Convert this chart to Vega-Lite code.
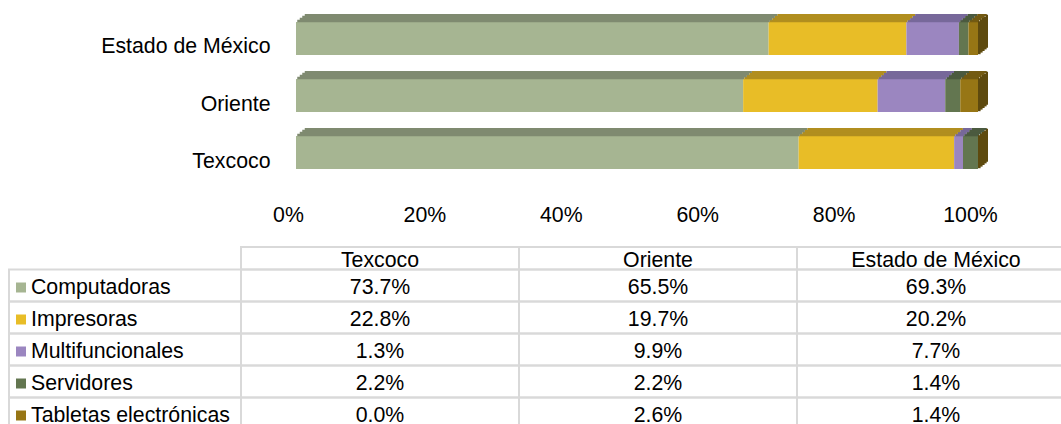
{
  "$schema": "https://vega.github.io/schema/vega-lite/v6.json",
  "width": 1061,
  "height": 424,
  "autosize": {"type": "none"},
  "padding": 0,
  "background": "#ffffff",
  "config": {
    "view": {"stroke": null},
    "text": {"font": "Liberation Sans", "fontSize": 21.3, "color": "#000000"}
  },
  "data": {
    "values": [
      {"region": "Texcoco", "category": "Computadoras", "value": 0.737},
      {"region": "Texcoco", "category": "Impresoras", "value": 0.228},
      {"region": "Texcoco", "category": "Multifuncionales", "value": 0.013},
      {"region": "Texcoco", "category": "Servidores", "value": 0.022},
      {"region": "Texcoco", "category": "Tabletas electrónicas", "value": 0.0},
      {"region": "Oriente", "category": "Computadoras", "value": 0.655},
      {"region": "Oriente", "category": "Impresoras", "value": 0.197},
      {"region": "Oriente", "category": "Multifuncionales", "value": 0.099},
      {"region": "Oriente", "category": "Servidores", "value": 0.022},
      {"region": "Oriente", "category": "Tabletas electrónicas", "value": 0.026},
      {"region": "Estado de México", "category": "Computadoras", "value": 0.693},
      {"region": "Estado de México", "category": "Impresoras", "value": 0.202},
      {"region": "Estado de México", "category": "Multifuncionales", "value": 0.077},
      {"region": "Estado de México", "category": "Servidores", "value": 0.014},
      {"region": "Estado de México", "category": "Tabletas electrónicas", "value": 0.014}
    ]
  },
  "layer": [
    {
      "transform": [
        {"stack": "value", "groupby": ["region"], "sort": [{"field": "category", "order": "ascending"}], "offset": "normalize", "as": ["x0", "x1"]}
      ],
      "encoding": {
        "x": {
          "field": "x0", "type": "quantitative",
          "scale": {"domain": [0, 1], "range": [296, 978], "nice": false, "zero": false},
          "axis": {"orient": "bottom", "offset": -209, "values": [0, 0.2, 0.4, 0.6, 0.8, 1], "format": ".0%", "ticks": false, "tickSize": 0, "domain": false, "grid": false, "labelPadding": 0, "labelBaseline": "middle", "labelOffset": -8, "labelFontSize": 21.3, "labelFont": "Liberation Sans", "labelColor": "#000000", "title": null, "labelFlush": false, "labelOverlap": false}
        },
        "x2": {"field": "x1"},
        "y": {
          "field": "region", "type": "nominal",
          "scale": {"type": "band", "domain": ["Estado de México", "Oriente", "Texcoco"], "range": [22, 169], "paddingInner": 0.421053, "paddingOuter": 0},
          "axis": {"orient": "left", "offset": -270, "ticks": false, "tickSize": 0, "domain": false, "grid": false, "labelPadding": 0, "labelAlign": "right", "labelBaseline": "middle", "labelOffset": 9, "labelFontSize": 21.3, "labelFont": "Liberation Sans", "labelColor": "#000000", "title": null}
        }
      },
      "layer": [
        {
          "mark": {"type": "bar"},
          "encoding": {
            "color": {"field": "category", "type": "nominal", "legend": null,
              "scale": {"domain": ["Computadoras", "Impresoras", "Multifuncionales", "Servidores", "Tabletas electrónicas"], "range": ["#A6B592", "#E8BD27", "#9B86C0", "#637650", "#977615"]}}
          }
        },
        {
          "encoding": {
            "color": {"field": "category", "type": "nominal", "legend": null,
              "scale": {"domain": ["Computadoras", "Impresoras", "Multifuncionales", "Servidores", "Tabletas electrónicas"], "range": ["#7F8A70", "#B18E1F", "#77689A", "#4B5A3F", "#735A12"]}}
          },
          "layer": [
            {"mark": {"type": "bar", "height": 2.6, "xOffset": 1.25, "x2Offset": 1.25, "yOffset": -17.5, "y2Offset": -17.5}},
            {"mark": {"type": "bar", "height": 2.6, "xOffset": 3.75, "x2Offset": 3.75, "yOffset": -19.5, "y2Offset": -19.5}},
            {"mark": {"type": "bar", "height": 2.6, "xOffset": 6.25, "x2Offset": 6.25, "yOffset": -21.5, "y2Offset": -21.5}},
            {"mark": {"type": "bar", "height": 2, "xOffset": 8.75, "x2Offset": 8.75, "yOffset": -23.5, "y2Offset": -23.5}}
          ]
        },
        {
          "transform": [{"filter": "datum.category === 'Tabletas electrónicas'"}],
          "encoding": {
            "x": {
              "field": "x1", "type": "quantitative",
              "scale": {"domain": [0, 1], "range": [296, 978], "nice": false, "zero": false},
              "axis": {"orient": "bottom", "offset": -209, "values": [0, 0.2, 0.4, 0.6, 0.8, 1], "format": ".0%", "ticks": false, "tickSize": 0, "domain": false, "grid": false, "labelPadding": 0, "labelBaseline": "middle", "labelOffset": -8, "labelFontSize": 21.3, "labelFont": "Liberation Sans", "labelColor": "#000000", "title": null, "labelFlush": false, "labelOverlap": false}
            },
            "x2": {"field": "x1"}
          },
          "layer": [
            {"mark": {"type": "bar", "color": "#5E4A0E", "xOffset": 0, "x2Offset": 2.6, "yOffset": -0.8, "y2Offset": -0.8}},
            {"mark": {"type": "bar", "color": "#5E4A0E", "xOffset": 2, "x2Offset": 4.6, "yOffset": -2.4, "y2Offset": -2.4}},
            {"mark": {"type": "bar", "color": "#5E4A0E", "xOffset": 4, "x2Offset": 6.6, "yOffset": -4, "y2Offset": -4}},
            {"mark": {"type": "bar", "color": "#5E4A0E", "xOffset": 6, "x2Offset": 8.6, "yOffset": -5.6, "y2Offset": -5.6}},
            {"mark": {"type": "bar", "color": "#5E4A0E", "xOffset": 8, "x2Offset": 10, "yOffset": -7.2, "y2Offset": -7.2}}
          ]
        }
      ],
      "resolve": {"scale": {"color": "independent"}}
    },
    {
      "encoding": {
        "x": {"field": "region", "type": "nominal", "axis": null,
          "scale": {"type": "band", "domain": ["Texcoco", "Oriente", "Estado de México"], "range": [241, 1075], "paddingInner": 0, "paddingOuter": 0}},
        "y": {"field": "category", "type": "nominal", "axis": null,
          "scale": {"type": "band", "domain": ["Computadoras", "Impresoras", "Multifuncionales", "Servidores", "Tabletas electrónicas"], "range": [269.5, 429.5], "paddingInner": 0, "paddingOuter": 0}}
      },
      "layer": [
        {"mark": {"type": "rect", "filled": false, "stroke": "#D9D9D9", "strokeWidth": 2}},
        {
          "mark": {"type": "text", "align": "center", "baseline": "alphabetic"},
          "encoding": {
            "y": {"field": "category", "type": "nominal", "bandPosition": 0.765},
            "text": {"field": "value", "type": "quantitative", "format": ".1%"}
          }
        }
      ]
    },
    {
      "transform": [{"filter": "datum.category === 'Computadoras'"}],
      "encoding": {
        "x": {"field": "region", "type": "nominal", "axis": null,
          "scale": {"type": "band", "domain": ["Texcoco", "Oriente", "Estado de México"], "range": [241, 1075], "paddingInner": 0, "paddingOuter": 0}},
        "y": {"datum": "hdr", "type": "nominal", "axis": null,
          "scale": {"type": "band", "domain": ["hdr"], "range": [247, 269.5], "paddingInner": 0, "paddingOuter": 0}}
      },
      "layer": [
        {"mark": {"type": "rect", "filled": false, "stroke": "#D9D9D9", "strokeWidth": 2}},
        {
          "mark": {"type": "text", "align": "center", "baseline": "alphabetic"},
          "encoding": {
            "y": {"datum": "hdr", "type": "nominal", "bandPosition": 0.875},
            "text": {"field": "region", "type": "nominal"}
          }
        }
      ]
    },
    {
      "transform": [{"filter": "datum.region === 'Texcoco'"}],
      "encoding": {
        "x": {"datum": "rowhdr", "type": "nominal", "axis": null,
          "scale": {"type": "band", "domain": ["rowhdr"], "range": [9, 241], "paddingInner": 0, "paddingOuter": 0}},
        "y": {"field": "category", "type": "nominal", "axis": null,
          "scale": {"type": "band", "domain": ["Computadoras", "Impresoras", "Multifuncionales", "Servidores", "Tabletas electrónicas"], "range": [269.5, 429.5], "paddingInner": 0, "paddingOuter": 0}}
      },
      "layer": [
        {"mark": {"type": "rect", "filled": false, "stroke": "#D9D9D9", "strokeWidth": 2}},
        {
          "mark": {"type": "point", "shape": "square", "filled": true, "size": 100, "opacity": 1, "strokeWidth": 0},
          "encoding": {
            "x": {"datum": "rowhdr", "type": "nominal", "bandPosition": 0.0517},
            "y": {"field": "category", "type": "nominal", "bandPosition": 0.5625},
            "color": {"field": "category", "type": "nominal", "legend": null,
              "scale": {"domain": ["Computadoras", "Impresoras", "Multifuncionales", "Servidores", "Tabletas electrónicas"], "range": ["#A6B592", "#E8BD27", "#9B86C0", "#637650", "#977615"]}}
          }
        },
        {
          "mark": {"type": "text", "align": "left", "baseline": "alphabetic"},
          "encoding": {
            "x": {"datum": "rowhdr", "type": "nominal", "bandPosition": 0.0948},
            "y": {"field": "category", "type": "nominal", "bandPosition": 0.76},
            "text": {"field": "category", "type": "nominal"}
          }
        }
      ]
    }
  ],
  "resolve": {"scale": {"x": "independent", "y": "independent", "color": "independent"}}
}
